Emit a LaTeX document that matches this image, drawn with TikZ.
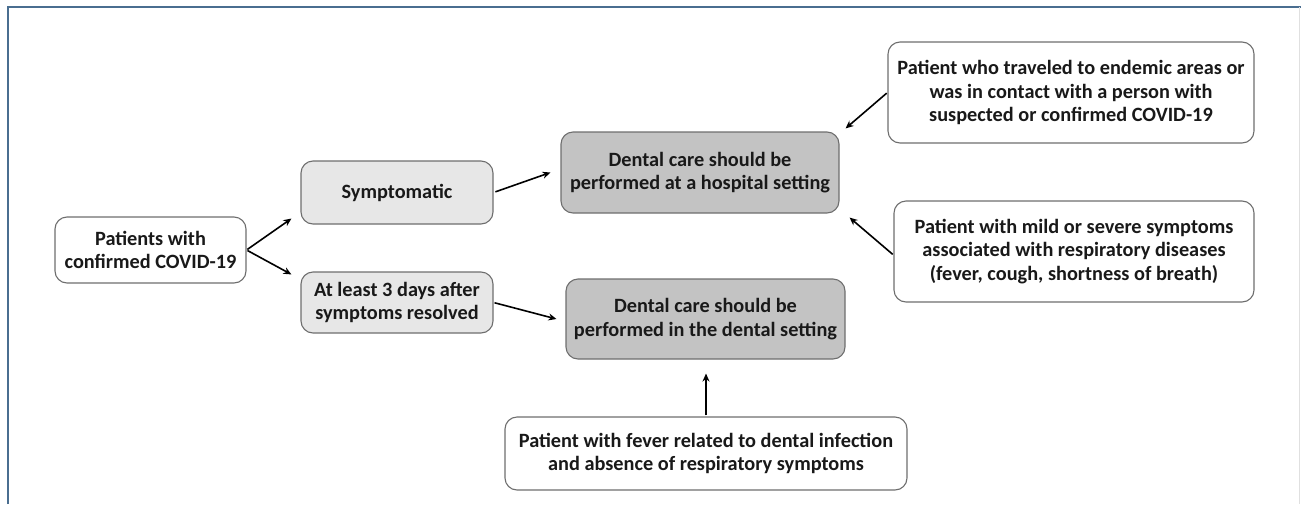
\documentclass[tikz,border=0pt]{standalone}
\usepackage{fontspec}
\setmainfont{Carlito}
\usetikzlibrary{arrows.meta,calc}
\definecolor{framecol}{HTML}{4A6E90}
\definecolor{edgecol}{HTML}{6E6E6E}
\definecolor{lightfill}{HTML}{E7E7E7}
\definecolor{darkfill}{HTML}{C3C3C3}
\tikzset{
  box/.style={draw=edgecol, line width=1.1pt, rounded corners=12pt, align=center,
    font=\fontsize{20.3}{23.3}\selectfont\bfseries, inner sep=2pt, text=black!90},
  whitebox/.style={box, fill=white},
  lightbox/.style={box, fill=lightfill},
  darkbox/.style={box, fill=darkfill},
  arr/.style={line width=1.6pt, -{Stealth[length=8pt,width=7pt]}, shorten <=1pt},
}
\begin{document}
\begin{tikzpicture}[x=1pt,y=-1pt]
\useasboundingbox (0,0) rectangle (1301,504);
\draw[framecol, line width=2pt] (8,504) -- (8,7) -- (1301,7);
\draw[black!12, line width=1.5pt] (1299.5,7) -- (1299.5,504);

\node[whitebox, minimum width=191pt, minimum height=66pt] (pat) at (150.5,250) {Patients with\\confirmed COVID-19};
\node[lightbox, minimum width=192pt, minimum height=63pt] (sym) at (397,192.5) {Symptomatic};
\node[lightbox, minimum width=192pt, minimum height=61pt] (three) at (397,302.5) {At least 3 days after\\symptoms resolved};
\node[darkbox, minimum width=278pt, minimum height=81pt] (hosp) at (700,172.5) {Dental care should be\\performed at a hospital setting};
\node[darkbox, minimum width=279pt, minimum height=80pt] (dent) at (705.5,319) {Dental care should be\\performed in the dental setting};
\node[whitebox, minimum width=366pt, minimum height=101pt] (trav) at (1071,92.5) {Patient who traveled to endemic areas or\\was in contact with a person with\\suspected or confirmed COVID-19};
\node[whitebox, minimum width=360pt, minimum height=101pt] (mild) at (1074,251.5) {Patient with mild or severe symptoms\\associated with respiratory diseases\\(fever, cough, shortness of breath)};
\node[whitebox, minimum width=402pt, minimum height=73pt] (fever) at (706,453.5) {Patient with fever related to dental infection\\and absence of respiratory symptoms};

\draw[arr] (pat.east) -- ($(sym.south west)+(-9,-6)$);
\draw[arr] (pat.east) -- ($(three.north west)+(-9,3)$);
\draw[arr, shorten <=2pt] (sym.east) -- ($(hosp.west)+(-10,0)$);
\draw[arr] (three.east) -- ($(dent.west)+(-9,0)$);
\draw[arr] (trav.west) -- ($(hosp.north east)+(6,-3)$);
\draw[arr] ($(mild.west)+(0,3.5)$) -- ($(hosp.south east)+(10,4)$);
\draw[arr] (fever.north) -- ($(fever.north |- dent.south)+(0,14)$);
\end{tikzpicture}
\end{document}
